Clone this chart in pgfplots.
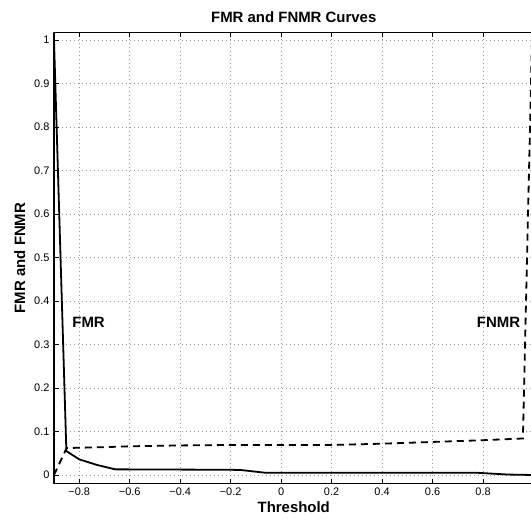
\documentclass[border=0pt]{standalone}
\usepackage{pgfplots}
\pgfplotsset{compat=1.18}
\usepackage{fontspec}
\setmainfont{Liberation Sans}
\begin{document}
\begin{tikzpicture}
\path[use as bounding box, clip] (-54bp,-35.3bp) rectangle (477bp,483.7bp);
\begin{axis}[
  scale only axis, width=479.5bp, height=451.4bp,
  xmin=-0.9, xmax=1.0, ymin=-0.02, ymax=1.018,
  xtick={-0.8,-0.6,-0.4,-0.2,0,0.2,0.4,0.6,0.8},
  xticklabels={−0.8,−0.6,−0.4,−0.2,0,0.2,0.4,0.6,0.8},
  ytick={0,0.1,0.2,0.3,0.4,0.5,0.6,0.7,0.8,0.9,1},
  yticklabels={0,0.1,0.2,0.3,0.4,0.5,0.6,0.7,0.8,0.9,1},
  grid=major,
  grid style={gray!80, line width=0.6bp, dash pattern=on 1bp off 3bp},
  axis line style={line width=1.3bp},
  tick align=inside, major tick length=5bp,
  tick style={black, line width=0.8bp},
  xtick pos=both, ytick pos=left,
  ticklabel style={font=\fontsize{11}{12}\selectfont},
  /pgf/number format/assume math mode=true,
  xticklabel style={yshift=-1bp},
  yticklabel style={xshift=-1bp},
]
\addplot[black, line width=1.8bp] coordinates {
  (-0.9,1.0) (-0.851,0.055) (-0.8,0.036) (-0.729,0.023) (-0.657,0.013)
  (-0.2,0.012) (-0.16,0.0115) (-0.06,0.005) (0.78,0.005) (0.9,0.001) (1.0,0.0)
};
\addplot[black, line width=1.8bp, dash pattern=on 7bp off 5bp] coordinates {
  (-0.9,0.0) (-0.85,0.062) (-0.7,0.064) (-0.6,0.066) (-0.4,0.068) (-0.2,0.069)
  (0.2,0.069) (0.4,0.072) (0.6,0.076) (0.8,0.080) (0.958,0.084) (0.996,1.05)
};
\node[anchor=west, inner sep=0pt, font=\bfseries\fontsize{15}{16}\selectfont] at (axis cs:-0.828,0.35) {FMR};
\node[anchor=west, inner sep=0pt, font=\bfseries\fontsize{15}{16}\selectfont] at (axis cs:0.775,0.35) {FNMR};
\end{axis}
\node[anchor=base, font=\bfseries\fontsize{15}{16}\selectfont] at (239.75bp,460.7bp) {FMR and FNMR Curves};
\node[anchor=base, font=\bfseries\fontsize{15}{16}\selectfont] at (239.75bp,-29bp) {Threshold};
\node[anchor=base, rotate=90, font=\bfseries\fontsize{15}{16}\selectfont] at (-29bp,225.7bp) {FMR and FNMR};
\end{tikzpicture}
\end{document}
